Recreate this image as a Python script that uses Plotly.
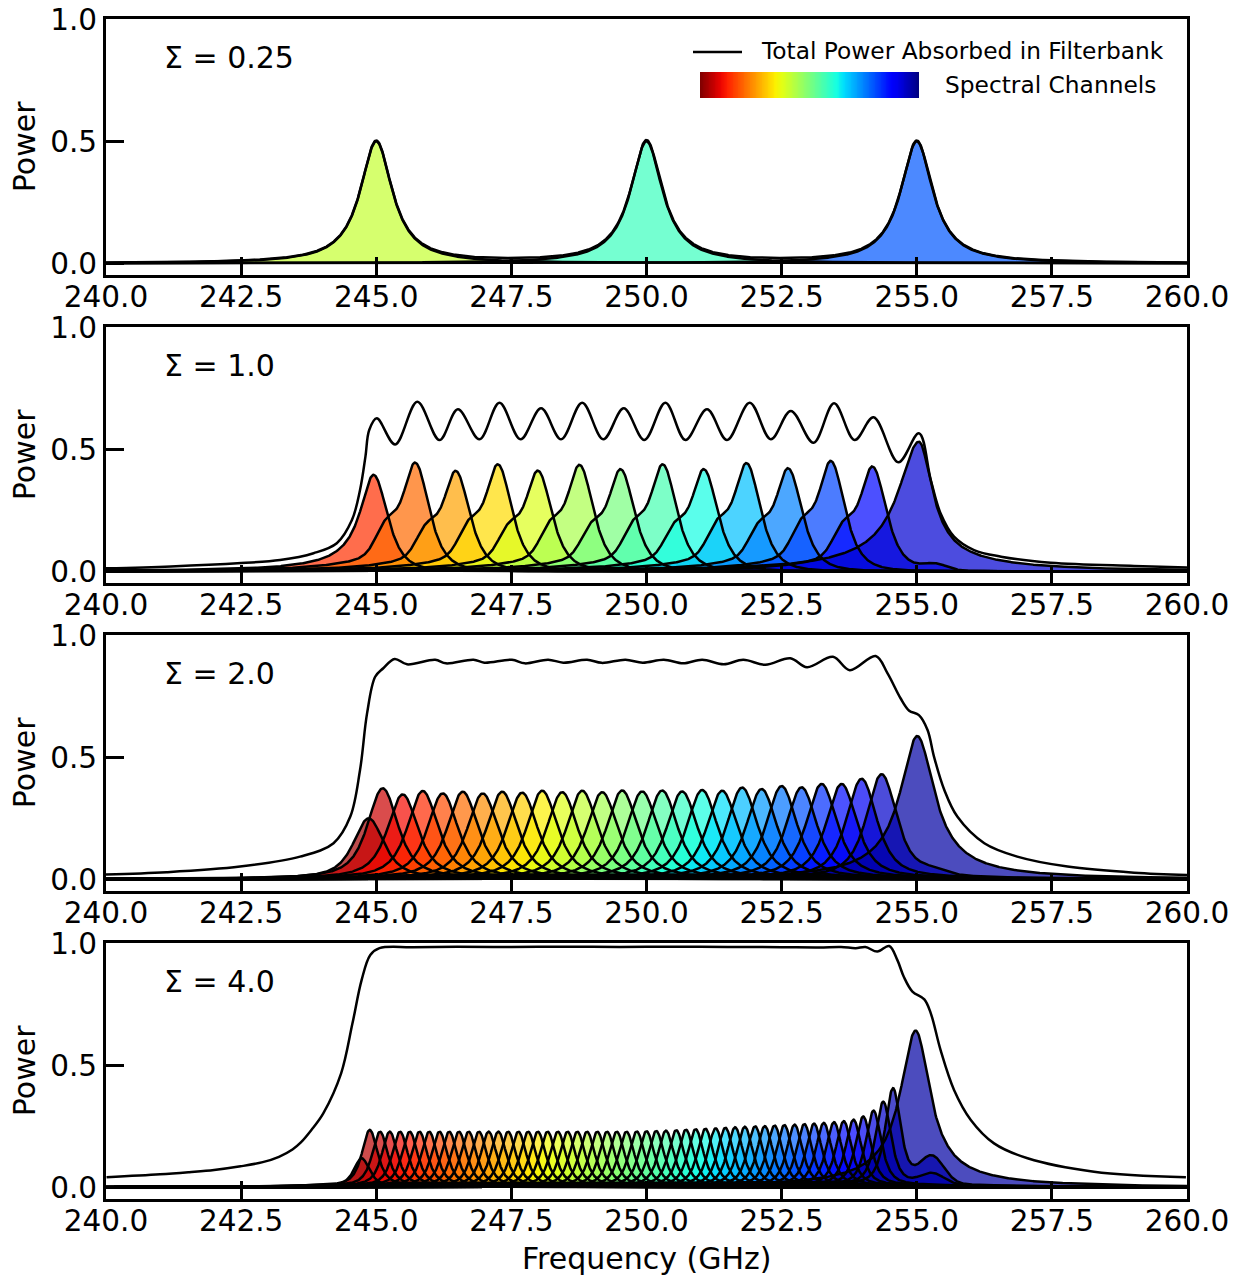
import numpy as np
import plotly.graph_objects as go

# ---------------------------------------------------------------------------
# Channel centre frequencies (GHz) and peak absorbed power, one set per bank
# ---------------------------------------------------------------------------
freq_s025 = [245.00, 250.00, 255.00]
peak_s025 = [0.50, 0.50, 0.50]

freq_s1 = [244.95, 245.72, 246.47, 247.25, 247.99, 248.76, 249.52,
           250.30, 251.06, 251.85, 252.62, 253.41, 254.18, 255.04]
peak_s1 = [0.395, 0.445, 0.411, 0.438, 0.412, 0.436, 0.418,
           0.438, 0.418, 0.443, 0.422, 0.452, 0.429, 0.531]

freq_s2 = [244.86, 245.12, 245.49, 245.86, 246.23, 246.60, 246.97,
           247.33, 247.70, 248.07, 248.44, 248.81, 249.18, 249.55,
           249.92, 250.29, 250.66, 251.03, 251.40, 251.77, 252.13,
           252.50, 252.87, 253.24, 253.61, 253.98, 254.35, 255.01]
peak_s2 = [0.250, 0.373, 0.348, 0.362, 0.352, 0.359, 0.352,
           0.359, 0.355, 0.363, 0.357, 0.363, 0.357, 0.364,
           0.360, 0.364, 0.360, 0.366, 0.363, 0.376, 0.370,
           0.382, 0.377, 0.391, 0.391, 0.412, 0.431, 0.587]

freq_s4 = [244.73, 244.88,
           245.07, 245.25, 245.44, 245.62, 245.80, 245.98, 246.17, 246.35,
           246.53, 246.71, 246.90, 247.08, 247.26, 247.44, 247.63, 247.81,
           247.99, 248.17, 248.36, 248.54, 248.72, 248.90, 249.09, 249.27,
           249.45, 249.63, 249.82, 250.00, 250.18, 250.36, 250.55, 250.73,
           250.91, 251.09, 251.28, 251.46, 251.64, 251.82, 252.01, 252.19,
           252.37, 252.55, 252.74, 252.92, 253.10, 253.28, 253.47, 253.65,
           253.83, 254.01, 254.20, 254.38, 254.56,
           254.98]
peak_s4 = [0.119, 0.235,
           0.228, 0.228, 0.228, 0.228, 0.228, 0.228, 0.228, 0.228,
           0.228, 0.228, 0.228, 0.228, 0.228, 0.228, 0.228, 0.228,
           0.228, 0.228, 0.228, 0.228, 0.228, 0.228, 0.228, 0.228,
           0.228, 0.228, 0.229, 0.230, 0.231, 0.232, 0.234, 0.236,
           0.238, 0.240, 0.242, 0.244, 0.246, 0.248, 0.250, 0.251,
           0.253, 0.255, 0.257, 0.259, 0.261, 0.264, 0.267, 0.271,
           0.277, 0.290, 0.314, 0.351, 0.406,
           0.642]

# Height of the small lobe just above the top channel (~255.3 GHz) seen on
# the channels directly below it, listed from lower to upper channel
lobe_s025 = []
lobe_s1 = [0.025]
lobe_s2 = [0.015]
lobe_s4 = [0.045, 0.110]

# ---------------------------------------------------------------------------
# Total power absorbed by the whole filterbank, sampled along the band
# ---------------------------------------------------------------------------
tot_f_s1 = [240.00, 241.20, 242.50, 243.22, 243.84, 244.27, 244.55, 244.70,
            244.80, 244.87, 245.01, 245.35, 245.76, 246.17, 246.51, 246.91,
            247.28, 247.67, 248.05, 248.42, 248.81, 249.20, 249.58, 249.96,
            250.35, 250.72, 251.12, 251.49, 251.91, 252.30, 252.67, 253.09,
            253.47, 253.85, 254.20, 254.66, 255.04, 255.26, 255.44, 255.69,
            256.06, 256.56, 257.48, 259.02, 260.00]
tot_p_s1 = [0.012, 0.020, 0.034, 0.046, 0.074, 0.115, 0.210, 0.333,
            0.470, 0.579, 0.627, 0.520, 0.695, 0.538, 0.664, 0.541,
            0.691, 0.541, 0.668, 0.541, 0.691, 0.541, 0.668, 0.538,
            0.691, 0.538, 0.664, 0.538, 0.691, 0.541, 0.657, 0.527,
            0.689, 0.538, 0.631, 0.447, 0.566, 0.374, 0.238, 0.142,
            0.087, 0.060, 0.035, 0.022, 0.016]

tot_f_s2 = [240.00, 241.12, 242.48, 243.59, 244.21, 244.52, 244.70, 244.83,
            244.98, 245.13, 245.34, 245.57, 246.09, 246.29, 246.80, 247.00,
            247.51, 247.75, 248.18, 248.46, 248.90, 249.17, 249.61, 249.93,
            250.32, 250.68, 251.03, 251.43, 251.79, 252.20, 252.66, 252.97,
            253.45, 253.76, 254.24, 254.46, 254.70, 254.86, 255.04, 255.20,
            255.32, 255.51, 255.75, 256.25, 256.86, 257.79, 259.02, 260.00]
tot_p_s2 = [0.020, 0.029, 0.052, 0.093, 0.148, 0.257, 0.448, 0.680,
            0.830, 0.865, 0.903, 0.881, 0.900, 0.885, 0.900, 0.888,
            0.900, 0.885, 0.900, 0.888, 0.900, 0.887, 0.900, 0.888,
            0.900, 0.885, 0.900, 0.881, 0.900, 0.879, 0.906, 0.869,
            0.912, 0.857, 0.915, 0.844, 0.742, 0.691, 0.673, 0.612,
            0.502, 0.366, 0.257, 0.148, 0.093, 0.052, 0.027, 0.018]

tot_f_s4 = [240.01, 241.00, 241.54, 242.00, 242.49, 242.90, 243.20, 243.45,
            243.61, 243.80, 244.02, 244.35, 244.56, 244.73, 244.89, 245.06,
            245.67, 246.50, 247.50, 248.50, 249.50, 250.50, 251.50, 252.50,
            253.20, 253.60, 253.87, 254.05, 254.27, 254.49, 254.64, 254.76,
            254.92, 255.14, 255.26, 255.44, 255.69, 256.00, 256.43, 257.05,
            258.28, 259.98]
tot_p_s4 = [0.041, 0.053, 0.062, 0.071, 0.086, 0.103, 0.125, 0.155,
            0.185, 0.235, 0.303, 0.467, 0.672, 0.850, 0.952, 0.980,
            0.984, 0.986, 0.985, 0.986, 0.985, 0.986, 0.985, 0.984,
            0.983, 0.985, 0.980, 0.985, 0.966, 0.989, 0.932, 0.863,
            0.802, 0.770, 0.713, 0.563, 0.399, 0.276, 0.180, 0.119,
            0.064, 0.041]

sigma_labels = ["0.25", "1.0", "2.0", "4.0"]
x_ticks = [240.0, 242.5, 245.0, 247.5, 250.0, 252.5, 255.0, 257.5, 260.0]
y_ticks = [0.0, 0.5, 1.0]

# ---------------------------------------------------------------------------
# Line-shape parameters of a single channel (widths in GHz)
#   wl/wr : core half widths below / above the centre, ql/qr their exponents
#   pl/pr : fraction in a broad pedestal of half width pw
#   sh    : shoulder from the next channel down (offset sp, width ss)
#   el/er/ep : the top channel of the bank (no channel above it)
# ---------------------------------------------------------------------------
SHAPES = [
    dict(wl=0.36, ql=1, pl=0.00, wr=0.36, qr=1, pr=0.00, pw=1.2,
         sh=0.00, sp=0.55, ss=0.18, el=0.36, er=0.36, ep=0.00),
    dict(wl=0.30, ql=1, pl=0.08, wr=0.466, qr=2, pr=0.00, pw=1.2,
         sh=0.20, sp=0.55, ss=0.18, el=0.45, er=0.30, ep=0.10),
    dict(wl=0.50, ql=2, pl=0.06, wr=0.50, qr=2, pr=0.06, pw=1.5,
         sh=0.00, sp=0.55, ss=0.18, el=0.38, er=0.38, ep=0.06),
    dict(wl=0.26, ql=2, pl=0.05, wr=0.26, qr=2, pr=0.05, pw=1.5,
         sh=0.00, sp=0.55, ss=0.18, el=0.34, er=0.32, ep=0.06),
]
LOBE_OFFSET, LOBE_WIDTH = 0.30, 0.22

# Colour-map positions (reversed jet) for the channels of each bank
COLOR_SPAN = [None, (0.14, 0.93), (0.03, 0.97), (0.03, 0.97)]
COLOR_S025 = [0.41, 0.58, 0.79]
FILL_ALPHA = 0.7

f = np.linspace(240.0, 260.0, 2001)


def lorentz(d, w):
    return 1.0 / (1.0 + (d / w) ** 2)


def channel(centre, peak, has_lower, is_top, s, lobe_at=None, lobe_h=0.0):
    d = f - centre
    if is_top:
        left = (1 - s["ep"]) * lorentz(d, s["el"]) + s["ep"] * lorentz(d, 1.5)
        right = (1 - s["ep"]) * lorentz(d, s["er"]) + s["ep"] * lorentz(d, 1.5)
    else:
        left = ((1 - s["pl"]) * (1 + (d / s["wl"]) ** 2) ** (-s["ql"])
                + s["pl"] * lorentz(d, s["pw"]))
        if has_lower and s["sh"] > 0:
            left = left + s["sh"] * np.exp(-0.5 * ((d + s["sp"]) / s["ss"]) ** 2)
        right = ((1 - s["pr"]) * (1 + (d / s["wr"]) ** 2) ** (-s["qr"])
                 + s["pr"] * lorentz(d, s["pw"]))
    out = peak * np.where(d < 0, left, right)
    if lobe_at is not None and lobe_h > 0:
        out = out + np.where(d > 0, lobe_h * np.exp(
            -0.5 * ((f - lobe_at) / LOBE_WIDTH) ** 2), 0.0)
    return out


def jet_r(t):
    x = 1.0 - t
    r = np.interp(x, [0, 0.35, 0.66, 0.89, 1], [0, 0, 1, 1, 0.5])
    g = np.interp(x, [0, 0.125, 0.375, 0.64, 0.91, 1], [0, 0, 1, 1, 0, 0])
    b = np.interp(x, [0, 0.11, 0.34, 0.65, 1], [0.5, 1, 1, 0, 0])
    return int(round(r * 255)), int(round(g * 255)), int(round(b * 255))


banks = [
    (freq_s025, peak_s025, lobe_s025, None, None),
    (freq_s1, peak_s1, lobe_s1, tot_f_s1, tot_p_s1),
    (freq_s2, peak_s2, lobe_s2, tot_f_s2, tot_p_s2),
    (freq_s4, peak_s4, lobe_s4, tot_f_s4, tot_p_s4),
]

W, H = 1243, 1278
X_LEFT, X_RIGHT = 106.0, 1187.0
PANEL_TOP0, PANEL_H, PANEL_STEP = 19.3, 255.7, 308.0

fig = go.Figure()
FONT = "DejaVu Sans"

for k, (freqs, peaks, lobes, tf, tp) in enumerate(banks):
    xa = "x" if k == 0 else f"x{k + 1}"
    ya = "y" if k == 0 else f"y{k + 1}"
    s = SHAPES[k]
    n = len(freqs)
    if k == 0:
        tvals = COLOR_S025
    else:
        t0, t1 = COLOR_SPAN[k]
        tvals = list(np.linspace(t0, t1, n))
    lobe_at = freqs[-1] + LOBE_OFFSET
    lobe_h = [0.0] * (n - 1 - len(lobes)) + list(lobes) + [0.0]
    curves = [channel(freqs[i], peaks[i], i > 0, (i == n - 1) and k > 0, s,
                      lobe_at, lobe_h[i])
              for i in range(n)]
    # coloured fills first, outlines on top
    for i, c in enumerate(curves):
        r, g, b = jet_r(tvals[i])
        fig.add_trace(go.Scatter(
            x=f, y=np.round(c, 5), mode="lines", line=dict(width=0),
            fill="tozeroy", fillcolor=f"rgba({r},{g},{b},{FILL_ALPHA})",
            xaxis=xa, yaxis=ya, hoverinfo="skip", showlegend=False))
    for c in curves:
        fig.add_trace(go.Scatter(
            x=f, y=np.round(c, 5), mode="lines",
            line=dict(color="black", width=2.5),
            xaxis=xa, yaxis=ya, hoverinfo="skip", showlegend=False))
    if tf is None:
        # sparse bank: the total is just the sum of its channels
        fig.add_trace(go.Scatter(
            x=f, y=np.round(np.sum(curves, axis=0), 5), mode="lines",
            line=dict(color="black", width=2.5),
            xaxis=xa, yaxis=ya, hoverinfo="skip", showlegend=False))
    else:
        fig.add_trace(go.Scatter(
            x=tf, y=tp, mode="lines",
            line=dict(color="black", width=2.5, shape="spline", smoothing=1.0),
            xaxis=xa, yaxis=ya, hoverinfo="skip", showlegend=False))

# legend colour strip for the spectral channels
strip = np.linspace(0.0, 1.0, 256)
cscale = []
for v in np.linspace(0, 1, 33):
    r, g, b = jet_r(v)
    cscale.append([float(v), f"rgb({r},{g},{b})"])
fig.add_trace(go.Heatmap(z=[strip], colorscale=cscale, showscale=False,
                         zmin=0, zmax=1, xaxis="x5", yaxis="y5",
                         hoverinfo="skip"))

layout = dict(
    width=W, height=H, margin=dict(l=0, r=0, t=0, b=0, autoexpand=False),
    paper_bgcolor="white", plot_bgcolor="white", showlegend=False,
    font=dict(family=FONT, color="black"),
)

axis_common = dict(
    ticks="inside", ticklen=18, tickwidth=3, tickcolor="black",
    showline=True, linewidth=3, linecolor="black", mirror=True,
    showgrid=False, zeroline=False, fixedrange=True, automargin=False,
    tickfont=dict(family=FONT, size=29.5, color="black"),
)

annotations = []
for k in range(4):
    top = PANEL_TOP0 + k * PANEL_STEP
    bottom = top + PANEL_H
    sfx = "" if k == 0 else str(k + 1)
    layout[f"xaxis{sfx}"] = dict(
        axis_common, domain=[X_LEFT / W, X_RIGHT / W],
        anchor="y" + sfx, range=[240, 260], tickvals=x_ticks,
        ticktext=[f"{v:.1f}" for v in x_ticks], ticklabelstandoff=-6)
    layout[f"yaxis{sfx}"] = dict(
        axis_common, domain=[1 - bottom / H, 1 - top / H],
        anchor="x" + sfx, range=[-0.048, 1.0], tickvals=y_ticks,
        ticktext=[f"{v:.1f}" for v in y_ticks])
    annotations.append(dict(
        text=f"Σ = {sigma_labels[k]}", x=162 / W, y=1 - (57.5 + k * PANEL_STEP) / H,
        xref="paper", yref="paper", xanchor="left", yanchor="middle",
        showarrow=False, font=dict(family=FONT, size=30, color="black")))
    annotations.append(dict(
        text="Power", x=24 / W, y=1 - (top + bottom) / 2 / H,
        xref="paper", yref="paper", xanchor="center", yanchor="middle",
        textangle=-90, showarrow=False,
        font=dict(family=FONT, size=30, color="black")))

annotations.append(dict(
    text="Frequency (GHz)", x=646.5 / W, y=1 - 1258 / H,
    xref="paper", yref="paper", xanchor="center", yanchor="middle",
    showarrow=False, font=dict(family=FONT, size=30, color="black")))
annotations.append(dict(
    text="Total Power Absorbed in Filterbank", x=759 / W, y=1 - 50 / H,
    xref="paper", yref="paper", xanchor="left", yanchor="middle",
    showarrow=False, font=dict(family=FONT, size=23.3, color="black")))
annotations.append(dict(
    text="Spectral Channels", x=943 / W, y=1 - 84 / H,
    xref="paper", yref="paper", xanchor="left", yanchor="middle",
    showarrow=False, font=dict(family=FONT, size=23.3, color="black")))

layout["xaxis5"] = dict(domain=[700 / W, 919 / W], anchor="y5", visible=False,
                        fixedrange=True, automargin=False)
layout["yaxis5"] = dict(domain=[1 - 98 / H, 1 - 72 / H], anchor="x5",
                        visible=False, fixedrange=True, automargin=False)
layout["annotations"] = annotations
layout["shapes"] = [dict(type="line", xref="paper", yref="paper",
                         x0=693 / W, x1=742 / W, y0=1 - 52 / H, y1=1 - 52 / H,
                         line=dict(color="black", width=2.5))]

fig.update_layout(**layout)
fig.write_html("out.html")
